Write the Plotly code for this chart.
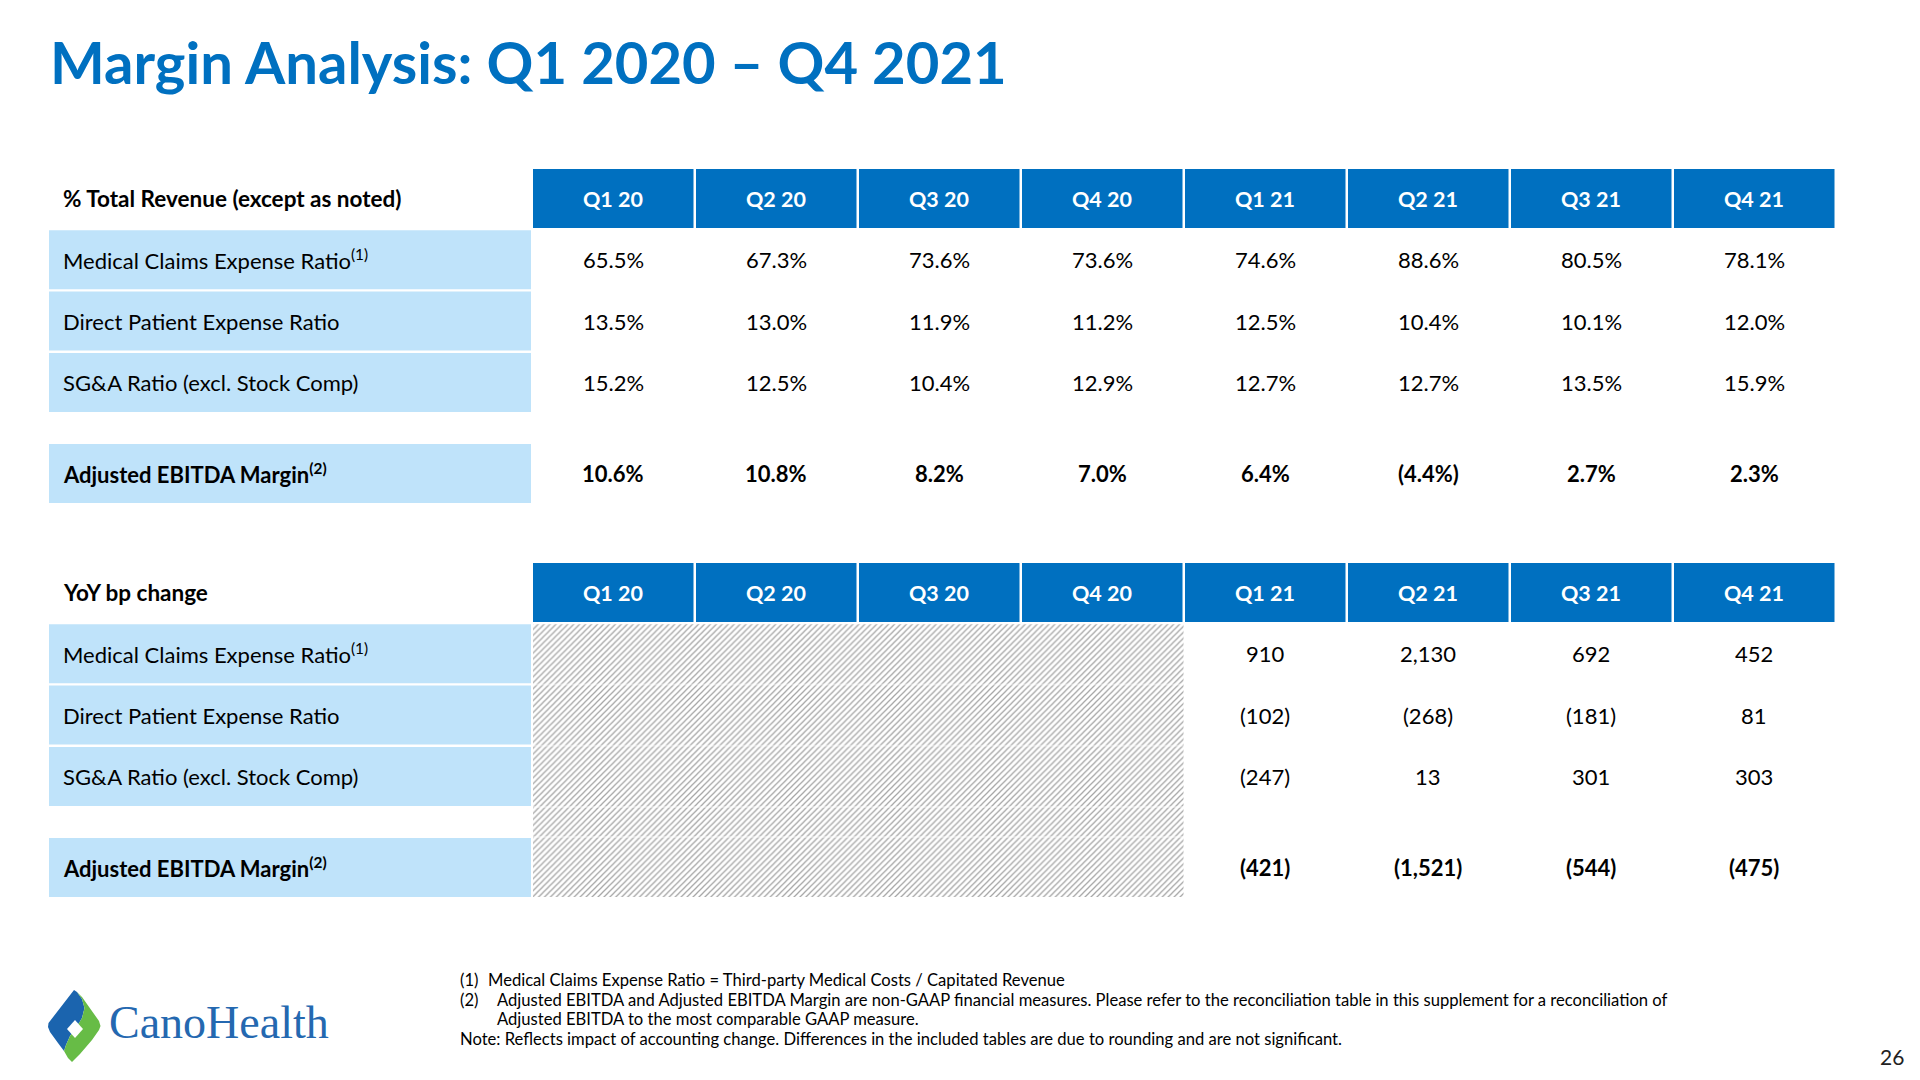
import plotly.graph_objects as go

# ---------------- data ----------------
title_text = "Margin Analysis: Q1 2020 – Q4 2021"
quarters = ["Q1 20", "Q2 20", "Q3 20", "Q4 20", "Q1 21", "Q2 21", "Q3 21", "Q4 21"]
row_labels = [
    "Medical Claims Expense Ratio<sup>(1)</sup>",
    "Direct Patient Expense Ratio",
    "SG&A Ratio (excl. Stock Comp)",
    "<b>Adjusted EBITDA Margin<sup>(2)</sup></b>",
]
pct_table_header = "% Total Revenue (except as noted)"
bp_table_header = "YoY bp change"

medical_claims_pct = [65.5, 67.3, 73.6, 73.6, 74.6, 88.6, 80.5, 78.1]
direct_patient_pct = [13.5, 13.0, 11.9, 11.2, 12.5, 10.4, 10.1, 12.0]
sga_pct = [15.2, 12.5, 10.4, 12.9, 12.7, 12.7, 13.5, 15.9]
adj_ebitda_margin_pct = [10.6, 10.8, 8.2, 7.0, 6.4, -4.4, 2.7, 2.3]

medical_claims_bp = [None, None, None, None, 910, 2130, 692, 452]
direct_patient_bp = [None, None, None, None, -102, -268, -181, 81]
sga_bp = [None, None, None, None, -247, 13, 301, 303]
adj_ebitda_margin_bp = [None, None, None, None, -421, -1521, -544, -475]

footnotes = [
    ("(1)", "Medical Claims Expense Ratio = Third-party Medical Costs / Capitated Revenue"),
    ("(2)", "Adjusted EBITDA and Adjusted EBITDA Margin are non-GAAP financial measures. Please refer to the reconciliation table in this supplement for a reconciliation of"),
    ("", "Adjusted EBITDA to the most comparable GAAP measure."),
    ("", "Note: Reflects impact of accounting change. Differences in the included tables are due to rounding and are not significant."),
]
page_number = "26"
logo_text = "CanoHealth"

# ---------------- styles / layout ----------------
FONT = "Lato"
BLUE = "#0070C0"
LIGHT = "#BFE3FA"
TXT = "#000000"
W, H = 1920, 1080
PAGE_OFFSET = 8  # default body margin of the html page

LABEL_LEFT, LABEL_RIGHT = 49, 531
COL_LEFT, COL_PITCH, GAP = 533, 163, 2.5
CELL_H, ROW_PITCH, LAST_ROW_OFFSET = 59, 61.3, 275
TABLE_TOPS = [169, 563]
TEXT_INDENT = 12

LABEL_SIZE, VALUE_SIZE, HEAD_SIZE, HDR_LABEL_SIZE = 22, 22, 21.5, 22.5
FOOT_SIZE = 16.6


def col_span(i):
    x0 = COL_LEFT + i * COL_PITCH
    return x0, x0 + COL_PITCH - GAP


def row_span(top, k):
    if k < 0:
        y0 = top
    elif k < 3:
        y0 = top + (k + 1) * ROW_PITCH
    else:
        y0 = top + LAST_ROW_OFFSET
    return y0, y0 + CELL_H


def fmt_pct(v):
    return f"({abs(v):.1f}%)" if v < 0 else f"{v:.1f}%"


def fmt_bp(v):
    if v is None:
        return ""
    return f"({abs(v):,})" if v < 0 else f"{v:,}"


fig = go.Figure()
shapes = []
annotations = []


def add_text(x, y, text, size, color=TXT, xanchor="center", family=FONT):
    annotations.append(dict(x=x, y=y, xref="x", yref="y", text=text, showarrow=False,
                            xanchor=xanchor, yanchor="middle",
                            font=dict(family=family, size=size, color=color)))


def rect(x0, y0, x1, y1, color, layer="below"):
    shapes.append(dict(type="rect", xref="x", yref="y", x0=x0, y0=y0, x1=x1, y1=y1,
                       fillcolor=color, line=dict(width=0), layer=layer))


# title
add_text(LABEL_LEFT - 1, 61, f"<b>{title_text}</b>", 58, BLUE, "left")

tables = [
    (pct_table_header, [medical_claims_pct, direct_patient_pct, sga_pct, adj_ebitda_margin_pct], fmt_pct),
    (bp_table_header, [medical_claims_bp, direct_patient_bp, sga_bp, adj_ebitda_margin_bp], fmt_bp),
]

for t, (hdr, series, fmt) in enumerate(tables):
    top = TABLE_TOPS[t]
    hy0, hy1 = row_span(top, -1)
    add_text(LABEL_LEFT + TEXT_INDENT, (hy0 + hy1) / 2, f"<b>{hdr}</b>", HDR_LABEL_SIZE, TXT, "left")
    for i, q in enumerate(quarters):
        x0, x1 = col_span(i)
        rect(x0, hy0, x1, hy1, BLUE)
        add_text((x0 + x1) / 2, (hy0 + hy1) / 2, f"<b>{q}</b>", HEAD_SIZE, "#FFFFFF")
    for k, (lab, vals) in enumerate(zip(row_labels, series)):
        y0, y1 = row_span(top, k)
        rect(LABEL_LEFT, y0, LABEL_RIGHT, y1, LIGHT)
        add_text(LABEL_LEFT + TEXT_INDENT, (y0 + y1) / 2, lab, LABEL_SIZE, TXT, "left")
        for i, v in enumerate(vals):
            s = fmt(v)
            if not s:
                continue
            x0, x1 = col_span(i)
            if k == 3:
                s = f"<b>{s}</b>"
            add_text((x0 + x1) / 2, (y0 + y1) / 2, s, VALUE_SIZE)

# hatched area for quarters without a prior-year comparison (second table)
top2 = TABLE_TOPS[1]
n_missing = sum(1 for v in medical_claims_bp if v is None)
hx0 = col_span(0)[0]
hx1 = col_span(n_missing)[0] - 1.5
hy0 = row_span(top2, 0)[0]
hy1 = row_span(top2, 3)[1]
fig.add_trace(go.Scatter(
    x=[hx0, hx1, hx1, hx0, hx0], y=[hy0, hy0, hy1, hy1, hy0],
    mode="lines", fill="toself", line=dict(width=0), fillcolor="#ffffff",
    fillpattern=dict(shape="/", size=4.2, solidity=0.3, fgcolor="#a6a6a6",
                     bgcolor="#ffffff", fillmode="replace"),
    hoverinfo="skip", showlegend=False))
line_ys = [(row_span(top2, k)[1] + row_span(top2, k + 1)[0]) / 2 for k in range(2)]
line_ys += [row_span(top2, 2)[1] + 1, row_span(top2, 3)[0] - 1]
for yb in line_ys:
    shapes.append(dict(type="line", xref="x", yref="y", x0=hx0, x1=hx1, y0=yb, y1=yb,
                       line=dict(color="rgba(255,255,255,0.4)", width=2), layer="above"))

# footnotes
fn_y = [980, 999.5, 1019, 1038.5]
for (num, txt), y in zip(footnotes, fn_y):
    if num:
        add_text(458, y, num, FOOT_SIZE, TXT, "left")
    if txt.startswith("Note"):
        add_text(458, y, txt, FOOT_SIZE, TXT, "left")
    else:
        add_text(486 if num == "(1)" else 495, y, txt, FOOT_SIZE, TXT, "left")

# page number
add_text(1906, 1056, page_number, 21, "#222222", "right")

# logo (diamond mark + wordmark)
logo_blue_x = [74, 66, 56, 48.5, 48, 50, 58, 64, 66, 70, 76, 82, 84.5, 82, 77, 74]
logo_blue_y = [990, 1000, 1013, 1023, 1027, 1032, 1043, 1051, 1045, 1036, 1028, 1018, 1008, 999, 992, 990]
logo_green_x = [77, 82, 84.5, 82, 76, 70, 66, 64, 68, 72, 80, 92, 99, 100.5, 99, 90, 82, 77]
logo_green_y = [992, 999, 1008, 1018, 1028, 1036, 1045, 1051, 1058, 1062, 1054, 1040, 1030, 1026, 1021, 1008, 997, 992]
logo_white_x = [75, 83, 75, 67, 75]
logo_white_y = [1020, 1029, 1038, 1029, 1020]
for xs, ys, c in ((logo_blue_x, logo_blue_y, "#1B64AE"),
                  (logo_green_x, logo_green_y, "#67BC46"),
                  (logo_white_x, logo_white_y, "#FFFFFF")):
    fig.add_trace(go.Scatter(x=xs, y=ys, mode="lines", fill="toself", fillcolor=c,
                             line=dict(width=0, color=c), hoverinfo="skip", showlegend=False))
add_text(107, 1022, logo_text, 46, "#2468B0", "left", family="Liberation Serif")

fig.update_layout(
    width=W, height=H, margin=dict(l=0, r=0, t=0, b=0),
    paper_bgcolor="#FFFFFF", plot_bgcolor="#FFFFFF",
    xaxis=dict(range=[PAGE_OFFSET, W + PAGE_OFFSET], visible=False, fixedrange=True),
    yaxis=dict(range=[H + PAGE_OFFSET, PAGE_OFFSET], visible=False, fixedrange=True),
    shapes=shapes, annotations=annotations, showlegend=False,
)
fig.write_html("out.html")
